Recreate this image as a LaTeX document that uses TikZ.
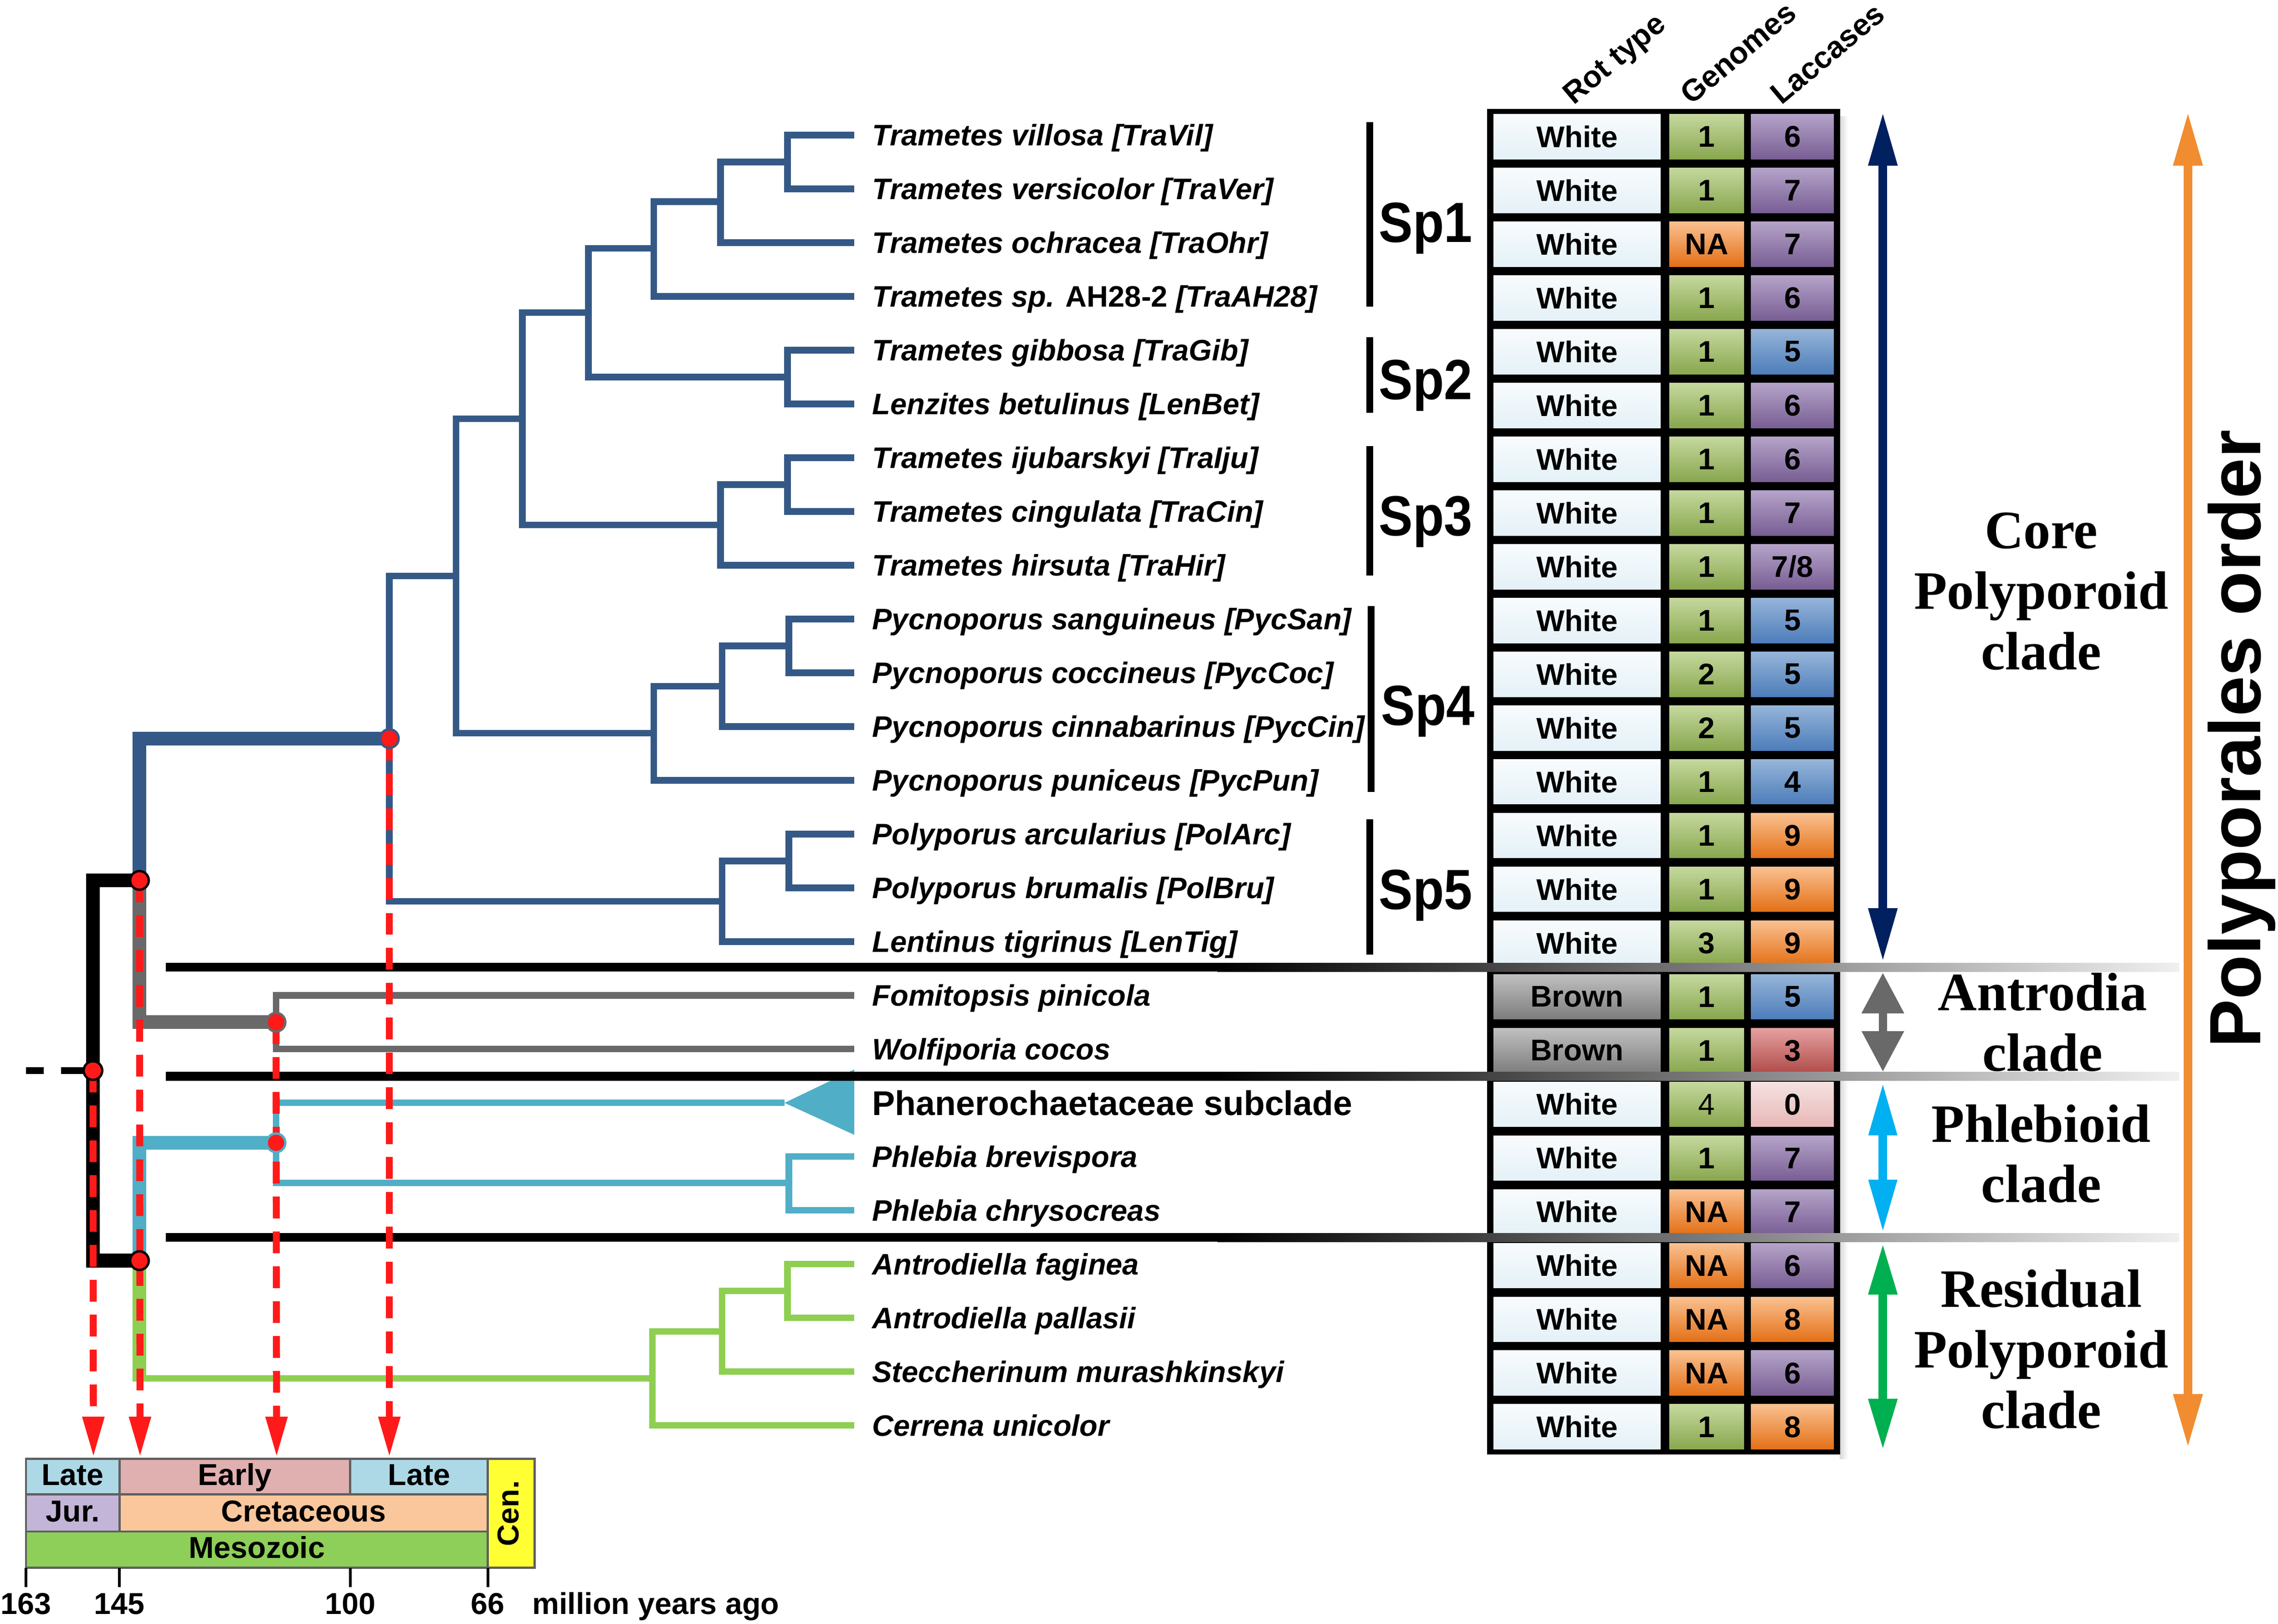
\documentclass[tikz,border=0pt]{standalone}
\usepackage{fontspec}
\setmainfont{Liberation Serif}
\setsansfont{Liberation Sans}
\usetikzlibrary{arrows.meta}

% branch colours
\definecolor{polyblue}{RGB}{53,89,135}
\definecolor{antrogray}{RGB}{105,105,105}
\definecolor{phlebcyan}{RGB}{80,174,199}
\definecolor{residgreen}{RGB}{142,207,82}
\definecolor{agered}{RGB}{255,26,26}
% clade arrows
\definecolor{corenavy}{RGB}{0,32,96}
\definecolor{ordorange}{RGB}{242,140,48}
\definecolor{phlebsky}{RGB}{0,176,240}
\definecolor{residjade}{RGB}{0,176,80}
% table cells
\definecolor{whitetop}{RGB}{248,251,253}
\definecolor{whitebot}{RGB}{228,241,247}
\definecolor{browntop}{RGB}{192,192,192}
\definecolor{brownbot}{RGB}{125,125,125}
\definecolor{greentop}{RGB}{197,216,158}
\definecolor{greenbot}{RGB}{136,167,78}
\definecolor{purpletop}{RGB}{181,164,201}
\definecolor{purplebot}{RGB}{120,94,148}
\definecolor{orangetop}{RGB}{250,193,145}
\definecolor{orangebot}{RGB}{227,112,22}
\definecolor{bluetop}{RGB}{150,181,217}
\definecolor{bluebot}{RGB}{77,125,186}
\definecolor{redtop}{RGB}{229,161,160}
\definecolor{redbot}{RGB}{176,76,74}
\definecolor{pinktop}{RGB}{244,226,225}
\definecolor{pinkbot}{RGB}{231,183,182}
% time scale
\definecolor{lateblue}{RGB}{173,216,230}
\definecolor{earlyrose}{RGB}{224,175,175}
\definecolor{jurlilac}{RGB}{195,181,215}
\definecolor{cretpeach}{RGB}{250,199,157}
\definecolor{mesogreen}{RGB}{141,207,88}
\definecolor{cenyellow}{RGB}{255,255,51}
\definecolor{tsline}{RGB}{95,95,95}

\tikzset{
  branch/.style={line width=2.25pt, line join=miter},
  trunk/.style={line width=4.75pt, line join=miter},
  agedash/.style={agered, line width=2.4pt, dash pattern=on 7.5pt off 4.5pt,
    -{Triangle[length=14pt,width=7pt]}},
  agedot/.style={circle, fill=agered, draw=#1, line width=0.8pt,
    minimum size=6.4pt, inner sep=0pt},
  taxon/.style={anchor=base west, inner sep=0pt,
    font=\sffamily\bfseries\itshape\fontsize{10.2}{12}\selectfont},
  spgroup/.style={anchor=base west, inner sep=0pt, xscale=0.9,
    font=\sffamily\bfseries\fontsize{19.5}{23}\selectfont},
  cell/.style={minimum width=#1, minimum height=15.5pt, inner sep=0pt,
    font=\sffamily\bfseries\fontsize{10.3}{12}\selectfont},
  whitecell/.style={top color=whitetop, bottom color=whitebot},
  browncell/.style={top color=browntop, bottom color=brownbot},
  gencell/.style={top color=greentop, bottom color=greenbot},
  purplecell/.style={top color=purpletop, bottom color=purplebot},
  orangecell/.style={top color=orangetop, bottom color=orangebot},
  bluecell/.style={top color=bluetop, bottom color=bluebot},
  redcell/.style={top color=redtop, bottom color=redbot},
  pinkcell/.style={top color=pinktop, bottom color=pinkbot},
  header/.style={anchor=base west, rotate=40, inner sep=0pt,
    font=\sffamily\bfseries\fontsize{10.5}{12}\selectfont},
  cladetext/.style={align=center,
    font=\rmfamily\bfseries\fontsize{18.6}{20.8}\selectfont},
  cladearrow/.style n args={3}{#1, line width=#2, {Triangle[#3]}-{Triangle[#3]}},
  tscell/.style={draw=tsline, line width=0.75pt},
  tstext/.style={anchor=base, inner sep=0pt,
    font=\sffamily\bfseries\fontsize{10.4}{12}\selectfont},
}

\begin{document}
\begin{tikzpicture}[x=0.5pt, y=-0.5pt]
	%%%%% START %%%%%
	\useasboundingbox (0,0) rectangle (1568,1117.6);
	\fill[white] (0,0) rectangle (1568,1117.6);

	%%%%% TREE %%%%%
	\foreach \i in {1,...,25}
		\coordinate (t\i) at (588,{93+37*(\i-1)});
	\coordinate (v12) at (542,111.5);
	\coordinate (v13) at (496,138.75);
	\coordinate (v14) at (450,170.9);
	\coordinate (v56) at (542,259.5);
	\coordinate (vA) at (405,215.2);
	\coordinate (v78) at (542,333.5);
	\coordinate (v79) at (496,361.25);
	\coordinate (vB) at (359.5,288.2);
	\coordinate (v1011) at (543,444.5);
	\coordinate (v1012) at (497,472.25);
	\coordinate (v1013) at (450,504.6);
	\coordinate (vC) at (314,396.4);
	\coordinate (v1415) at (543,592.5);
	\coordinate (v1416) at (497,620.25);
	\coordinate (core) at (268,508.3);
	\coordinate (antro) at (190,703.5);
	\coordinate (tri) at (540,759);
	\coordinate (tritop) at (588,736);
	\coordinate (tribot) at (588,781);
	\coordinate (v2021) at (543,814);
	\coordinate (phleb) at (190,786.5);
	\coordinate (v2223) at (542,888.5);
	\coordinate (v2224) at (497,916.25);
	\coordinate (resid) at (449,948.6);
	\coordinate (cora) at (96,605.9);
	\coordinate (phre) at (96,867.6);
	\coordinate (gbend) at (96,948.6);
	\coordinate (root) at (64,736.8);
	\coordinate (base) at (18,736.8);

	\foreach \p/\c in {v12/t1, v12/t2, v13/v12, v13/t3, v14/v13, v14/t4,
		v56/t5, v56/t6, vA/v14, vA/v56, v78/t7, v78/t8, v79/v78, v79/t9,
		vB/vA, vB/v79, v1011/t10, v1011/t11, v1012/v1011, v1012/t12,
		v1013/v1012, v1013/t13, vC/vB, vC/v1013, v1415/t14, v1415/t15,
		v1416/v1415, v1416/t16, core/vC, core/v1416}
		\draw[branch, polyblue] (\p) |- (\c);
	\draw[branch, antrogray] (antro) |- (t17);
	\draw[branch, antrogray] (antro) |- (t18);
	\foreach \p/\c in {phleb/tri, phleb/v2021, v2021/t20, v2021/t21}
		\draw[branch, phlebcyan] (\p) |- (\c);
	\fill[phlebcyan] (tri) -- (tritop) -- (tribot) -- cycle;
	\foreach \p/\c in {v2223/t22, v2223/t23, v2224/v2223, v2224/t24,
		resid/v2224, resid/t25}
		\draw[branch, residgreen] (\p) |- (\c);
	\draw[branch, residgreen] (gbend) -- (resid);

	\draw[trunk, polyblue] (cora) |- (core);
	\draw[trunk, antrogray] (cora) |- (antro);
	\draw[trunk, phlebcyan] (phre) |- (phleb);
	\draw[trunk, residgreen] (phre) -- ([yshift=-1.1pt]gbend);
	\draw[trunk] (root) |- (cora);
	\draw[trunk] (root) |- (phre);
	\draw[line width=2.3pt, dash pattern=on 6pt off 6pt on 11pt off 0.1pt] (base) -- (root);

	%%%%% TAXA %%%%%
	\foreach \i/\nm in {1/{Trametes villosa [TraVil]}, 2/{Trametes versicolor [TraVer]},
		3/{Trametes ochracea [TraOhr]}, 4/{Trametes sp. {\upshape AH28-2} [TraAH28]},
		5/{Trametes gibbosa [TraGib]}, 6/{Lenzites betulinus [LenBet]},
		7/{Trametes ijubarskyi [TraIju]}, 8/{Trametes cingulata [TraCin]},
		9/{Trametes hirsuta [TraHir]}, 10/{Pycnoporus sanguineus [PycSan]},
		11/{Pycnoporus coccineus [PycCoc]}, 12/{Pycnoporus cinnabarinus [PycCin]},
		13/{Pycnoporus puniceus [PycPun]}, 14/{Polyporus arcularius [PolArc]},
		15/{Polyporus brumalis [PolBru]}, 16/{Lentinus tigrinus [LenTig]},
		17/{Fomitopsis pinicola}, 18/{Wolfiporia cocos},
		20/{Phlebia brevispora}, 21/{Phlebia chrysocreas},
		22/{Antrodiella faginea}, 23/{Antrodiella pallasii},
		24/{Steccherinum murashkinskyi}, 25/{Cerrena unicolor}}
		\node[taxon] (taxon\i) at (600,{93+37*(\i-1)+7.3}) {\nm};
	\node[taxon, font=\sffamily\bfseries\fontsize{11.8}{14}\selectfont] (taxon19) at (600,767.4) {Phanerochaetaceae subclade};

	% species groups
	\fill (940.5,84) rectangle (945.2,211);
	\fill (940.5,232) rectangle (945.2,284);
	\fill (940.5,307) rectangle (945.2,396);
	\fill (941.3,417) rectangle (946,545);
	\fill (940.5,564) rectangle (945.2,657);
	\node[spgroup] (grp1) at (948.7,166.6) {Sp1};
	\node[spgroup] (grp2) at (948.7,275) {Sp2};
	\node[spgroup] (grp3) at (948.7,368.5) {Sp3};
	\node[spgroup] (grp4) at (950.4,499) {Sp4};
	\node[spgroup] (grp5) at (948.7,625.7) {Sp5};

	%%%%% TABLE %%%%%
	\shade[left color=black!15, right color=white] (1266.5,80) rectangle (1272,1004);
	\fill (1023.5,75) rectangle (1266.5,1001);
	\foreach \i/\rt/\rs/\gn/\gs/\ln/\ls in {
		1/White/whitecell/1/gencell/6/purplecell,
		2/White/whitecell/1/gencell/7/purplecell,
		3/White/whitecell/NA/orangecell/7/purplecell,
		4/White/whitecell/1/gencell/6/purplecell,
		5/White/whitecell/1/gencell/5/bluecell,
		6/White/whitecell/1/gencell/6/purplecell,
		7/White/whitecell/1/gencell/6/purplecell,
		8/White/whitecell/1/gencell/7/purplecell,
		9/White/whitecell/1/gencell/{7/8}/purplecell,
		10/White/whitecell/1/gencell/5/bluecell,
		11/White/whitecell/2/gencell/5/bluecell,
		12/White/whitecell/2/gencell/5/bluecell,
		13/White/whitecell/1/gencell/4/bluecell,
		14/White/whitecell/1/gencell/9/orangecell,
		15/White/whitecell/1/gencell/9/orangecell,
		16/White/whitecell/3/gencell/9/orangecell,
		17/Brown/browncell/1/gencell/5/bluecell,
		18/Brown/browncell/1/gencell/3/redcell,
		19/White/whitecell/{\mdseries 4}/gencell/0/pinkcell,
		20/White/whitecell/1/gencell/7/purplecell,
		21/White/whitecell/NA/orangecell/7/purplecell,
		22/White/whitecell/NA/orangecell/6/purplecell,
		23/White/whitecell/NA/orangecell/8/orangecell,
		24/White/whitecell/NA/orangecell/6/purplecell,
		25/White/whitecell/1/gencell/8/orangecell}
	{
		\pgfmathsetmacro\yc{94+37*(\i-1)}
		\node[cell=57.5pt, \rs] (rot\i) at (1085.5,\yc) {\rt};
		\node[cell=25.75pt, \gs] (gen\i) at (1174.75,\yc) {\gn};
		\node[cell=28.5pt, \ls] (lac\i) at (1233.8,\yc) {\ln};
	}
	\node[header] (hrot) at (1083,73) {Rot type};
	\node[header] (hgen) at (1164,73) {Genomes};
	\node[header] (hlac) at (1226,73) {Laccases};

	%%%%% CLADE SEPARATORS %%%%%
	\foreach \y in {665.7,740.7,851.7} {
		\fill (114,{\y-3}) rectangle (838,{\y+3});
		\shade[left color=black, right color=black!6] (838,{\y-3}) rectangle (1500,{\y+3});
	}

	%%%%% AGES %%%%%
	\coordinate (ts163) at (64.3,1003);
	\coordinate (ts145) at (96.4,1003);
	\coordinate (tsearly) at (190.4,1003);
	\coordinate (tslate) at (268,1003);
	\draw[agedash] (root) -- (ts163);
	\draw[agedash] (cora) -- (ts145);
	\draw[agedash] (antro) -- (tsearly);
	\draw[agedash] (core) -- (tslate);
	\node[agedot=polyblue] (dcore) at (core) {};
	\node[agedot=black] (dcora) at (cora) {};
	\node[agedot=black] (droot) at (root) {};
	\node[agedot=antrogray] (dantro) at (antro) {};
	\node[agedot=phlebcyan] (dphleb) at (phleb) {};
	\node[agedot=black] (dphre) at (phre) {};

	%%%%% TIME SCALE %%%%%
	\foreach \xa/\ya/\xb/\yb/\fc/\nm/\txt in {
		17.9/1004/82.2/1028.5/lateblue/jlate/Late,
		82.2/1004/241.1/1028.5/earlyrose/kearly/Early,
		241.1/1004/335.8/1028.5/lateblue/klate/Late,
		17.9/1028.5/82.2/1054/jurlilac/jur/Jur.,
		82.2/1028.5/335.8/1054/cretpeach/cret/Cretaceous,
		17.9/1054/335.8/1079/mesogreen/meso/Mesozoic}
	{
		\draw[tscell, fill=\fc] (\xa,\ya) rectangle (\xb,\yb);
		\node[tstext] (\nm) at ({(\xa+\xb)/2},{(\ya+\yb)/2+6}) {\txt};
	}
	\draw[tscell, fill=cenyellow] (335.8,1004) rectangle (368,1079);
	\node[tstext, rotate=90] (cen) at (357,1041.5) {Cen.};
	\foreach \x/\lab in {17.9/163, 82.2/145, 241.1/100, 335.8/66} {
		\draw[line width=1pt] (\x,1079) -- (\x,1092.4);
		\node[tstext] (age\lab) at (\x,1110.8) {\lab};
	}
	\node[tstext, anchor=base west] (mya) at (366,1110.8) {million years ago};

	%%%%% CLADES %%%%%
	\coordinate (corea) at (1296,77);
	\coordinate (coreb) at (1296,662);
	\coordinate (antroa) at (1296,669.4);
	\coordinate (antrob) at (1296,737.6);
	\coordinate (phleba) at (1296,745);
	\coordinate (phlebb) at (1296,848.3);
	\coordinate (resida) at (1296,855.6);
	\coordinate (residb) at (1296,998);
	\coordinate (ordera) at (1506,77);
	\coordinate (orderb) at (1506,996.4);
	\draw[cladearrow={corenavy}{3pt}{length=18.5pt,width=9.3pt}] (corea) -- (coreb);
	\draw[cladearrow={antrogray}{2.8pt}{length=14pt,width=13.9pt}] (antroa) -- (antrob);
	\draw[cladearrow={phlebsky}{3pt}{length=18.2pt,width=9.1pt}] (phleba) -- (phlebb);
	\draw[cladearrow={residjade}{3pt}{length=17.7pt,width=9.3pt}] (resida) -- (residb);
	\draw[cladearrow={ordorange}{3pt}{length=18.5pt,width=9.4pt}] (ordera) -- (orderb);

	\node[cladetext] (lcore) at (1405,407) {Core\\Polyporoid\\clade};
	\node[cladetext] (lantro) at (1406,703.5) {Antrodia\\clade};
	\node[cladetext] (lphleb) at (1405,794) {Phlebioid\\clade};
	\node[cladetext] (lresid) at (1405,928.5) {Residual\\Polyporoid\\clade};
	\node[rotate=90, anchor=base, inner sep=0pt,
		font=\sffamily\bfseries\fontsize{25}{30}\selectfont] (order) at (1556,508.5) {Polyporales order};
	%%%%% END %%%%%
\end{tikzpicture}
\end{document}
